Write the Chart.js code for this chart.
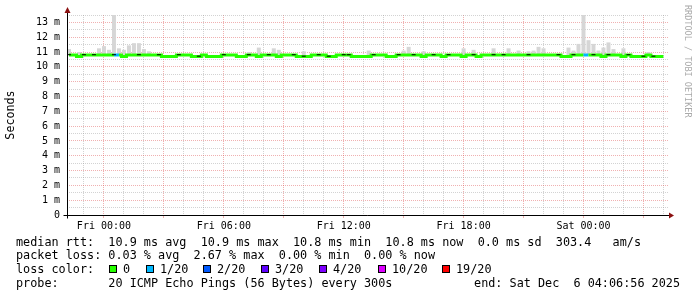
<!DOCTYPE html>
<html>
<head>
<meta charset="utf-8">
<script src="https://cdn.jsdelivr.net/npm/chart.js@4.4.1/dist/chart.umd.min.js"></script>
<style>
  body { margin: 0; background: #fff; }
  #wrap { position: relative; width: 697px; height: 297px; overflow: hidden; font-family: "DejaVu Sans Mono", monospace; }
  #c { position: absolute; left: 0; top: 0; }
  .row { position: absolute; font-size: 11.8px; line-height: 14px; white-space: pre; color: #000; }
  .box { position: absolute; width: 8px; height: 8px; border: 1px solid #000; box-sizing: border-box; }
</style>
</head>
<body>
<div id="wrap">
  <canvas id="c" width="697" height="297"></canvas>
  <div id="legend"></div>
</div>
<script>
// sampling grid: hours relative to Fri 00:00, one sample per 15 min
const startHour = -1.75;
const stepHours = 0.25;

// median rtt (ms)
const median = [
  10.80, 10.80, 10.70, 10.80, 10.80, 10.80, 10.80, 10.80, 10.80, 10.80,
  10.80, 10.70, 10.80, 10.80, 10.80, 10.80, 10.80, 10.80, 10.80, 10.70,
  10.70, 10.70, 10.80, 10.80, 10.80, 10.70, 10.70, 10.80, 10.70, 10.70,
  10.70, 10.80, 10.80, 10.80, 10.70, 10.70, 10.80, 10.80, 10.70, 10.80,
  10.80, 10.80, 10.70, 10.80, 10.80, 10.80, 10.70, 10.70, 10.70, 10.80,
  10.80, 10.80, 10.70, 10.70, 10.80, 10.80, 10.80, 10.70, 10.70, 10.70,
  10.70, 10.80, 10.80, 10.80, 10.70, 10.70, 10.80, 10.80, 10.80, 10.80,
  10.80, 10.70, 10.80, 10.80, 10.80, 10.70, 10.80, 10.80, 10.80, 10.70,
  10.80, 10.80, 10.70, 10.80, 10.80, 10.80, 10.80, 10.80, 10.80, 10.80,
  10.80, 10.80, 10.80, 10.80, 10.80, 10.80, 10.80, 10.80, 10.80, 10.70,
  10.70, 10.80, 10.80, 10.80, 10.80, 10.80, 10.80, 10.70, 10.80, 10.80,
  10.80, 10.70, 10.80, 10.70, 10.70, 10.70, 10.80, 10.70, 10.70, 10.70
];

// top of the ping smoke (ms), null = hidden behind the median line
const smokeTop = [
  11.20, null, 11.00, null, null, null, 11.25, 11.40, 11.15, 13.55,
  11.25, 11.15, 11.45, 11.60, 11.60, 11.20, 11.05, null, null, null,
  null, null, null, null, null, null, null, null, null, null,
  null, null, null, null, null, null, 11.00, null, 11.30, null,
  null, 11.25, 11.15, null, null, null, null, 11.05, null, null,
  null, null, null, null, null, null, null, null, null, null,
  11.10, null, null, null, null, null, null, 11.10, 11.35, null,
  null, 11.05, null, null, null, null, null, null, null, 11.25,
  null, 11.15, null, null, null, 11.25, null, null, 11.25, null,
  11.10, null, 11.05, 11.10, 11.35, 11.25, null, null, null, null,
  11.30, 11.10, 11.55, 13.60, 11.80, 11.55, 11.10, 11.30, 11.65, 11.20,
  null, 11.25, null, null, null, null, 11.00, null, null, null
];

// loss level index per sample (0 = no loss, 1 = 1/20)
const loss = [
  0, 0, 0, 0, 0, 0, 0, 0, 0, 1,  0, 0, 0, 0, 0, 0, 0, 0, 0, 0,
  0, 0, 0, 0, 0, 0, 0, 0, 0, 0,  0, 0, 0, 0, 0, 0, 0, 0, 0, 0,
  0, 0, 0, 0, 0, 0, 0, 0, 0, 0,  0, 0, 0, 0, 0, 0, 0, 0, 0, 0,
  0, 0, 0, 0, 0, 0, 0, 0, 0, 0,  0, 0, 0, 0, 0, 0, 0, 0, 0, 0,
  0, 0, 0, 0, 0, 0, 0, 0, 0, 0,  0, 0, 0, 0, 0, 0, 0, 0, 0, 0,
  0, 0, 0, 1, 0, 0, 0, 0, 0, 0,  0, 0, 0, 0, 0, 0, 0, 0, 0, 0
];

// samples where dense pings darken the median band
const darkIdx = [0, 3, 5, 9, 14, 18, 22, 26, 31, 36, 40, 45, 47, 50, 52, 55, 56,
  61, 66, 69, 73, 76, 81, 85, 87, 92, 98, 101, 105, 108, 112, 115, 117];

const lossLabels = ['0', '1/20', '2/20', '3/20', '4/20', '10/20', '19/20'];
const lossColors = ['#26ff00', '#00b8ff', '#0059ff', '#5e00ff', '#7e00ff', '#dd00ff', '#ff0000'];

const xTickHours = [0, 6, 12, 18, 24];
const xTickLabels = ['Fri 00:00', 'Fri 06:00', 'Fri 12:00', 'Fri 18:00', 'Sat 00:00'];

const legendRows = [
  'median rtt:  10.9 ms avg  10.9 ms max  10.8 ms min  10.8 ms now  0.0 ms sd  303.4   am/s',
  'packet loss: 0.03 % avg  2.67 % max  0.00 % min  0.00 % now',
  'loss color:',
  'probe:       20 ICMP Echo Pings (56 Bytes) every 300s'
];
const endText = 'end: Sat Dec  6 04:06:56 2025';

const hourOf = i => startHour + i * stepHours;
const redGrid = 'rgba(220,70,70,0.42)';
const grayGrid = 'rgba(150,150,150,0.42)';
const monoFont = 'DejaVu Sans Mono';

const rrdAxes = {
  id: 'rrdAxes',
  afterDraw(chart) {
    const { ctx, chartArea: a } = chart;
    const x0 = Math.round(a.left) + 0.5, y0 = Math.round(a.bottom) + 0.5;
    ctx.save();
    ctx.strokeStyle = '#000';
    ctx.lineWidth = 1;
    ctx.beginPath();
    ctx.moveTo(x0, a.top - 4);
    ctx.lineTo(x0, y0 + 3);
    ctx.moveTo(x0 - 4, y0);
    ctx.lineTo(a.right + 3, y0);
    ctx.stroke();
    ctx.fillStyle = '#8b1010';
    ctx.beginPath();
    ctx.moveTo(x0, a.top - 8);
    ctx.lineTo(x0 - 3, a.top - 2);
    ctx.lineTo(x0 + 3, a.top - 2);
    ctx.closePath();
    ctx.fill();
    ctx.beginPath();
    ctx.moveTo(a.right + 6, y0);
    ctx.lineTo(a.right + 1, y0 - 3);
    ctx.lineTo(a.right + 1, y0 + 3);
    ctx.closePath();
    ctx.fill();
    ctx.translate(683, 5);
    ctx.rotate(Math.PI / 2);
    ctx.fillStyle = '#aaaaaa';
    ctx.font = '8.5px "DejaVu Sans Mono"';
    ctx.textBaseline = 'middle';
    ctx.fillText('RRDTOOL / TOBI OETIKER', 0, -4);
    ctx.restore();
  }
};

new Chart(document.getElementById('c'), {
  type: 'line',
  data: {
    datasets: [
      {
        label: 'dark',
        data: darkIdx.map(i => ({ x: hourOf(i), y: median[i] + 0.02 })),
        showLine: false,
        pointStyle: 'line',
        pointRadius: 2,
        pointBorderWidth: 1,
        pointBorderColor: '#000',
        order: 0
      },
      {
        label: 'median',
        data: median.map((v, i) => ({ x: hourOf(i), y: v })),
        borderColor: lossColors[0],
        borderWidth: 3,
        pointRadius: 0,
        stepped: 'middle',
        segment: { borderColor: c => lossColors[loss[c.p0DataIndex]] },
        order: 1
      },
      {
        type: 'bar',
        label: 'smoke',
        data: smokeTop.map((v, i) => v === null ? null : { x: hourOf(i), y: [median[i], v] }).filter(d => d),
        backgroundColor: '#d6d6d6',
        barPercentage: 0.8,
        categoryPercentage: 1,
        order: 2
      }
    ]
  },
  options: {
    responsive: false,
    animation: false,
    devicePixelRatio: 1,
    layout: { padding: { left: 0, top: 15, right: 29, bottom: 62 } },
    plugins: { legend: { display: false }, tooltip: { enabled: false } },
    scales: {
      x: {
        type: 'linear',
        min: -1.85,
        max: 28.23,
        offset: false,
        afterFit(s) { s.height = 20; },
        ticks: {
          stepSize: 1,
          includeBounds: false,
          autoSkip: false,
          maxRotation: 0,
          padding: 2,
          color: '#000',
          font: { family: monoFont, size: 10 },
          callback: v => { const k = xTickHours.indexOf(v); return k < 0 ? '' : xTickLabels[k]; }
        },
        grid: {
          offset: false,
          color: c => (c.tick && c.tick.value % 3 === 0) ? redGrid : grayGrid,
          tickColor: c => (c.tick && c.tick.value % 3 === 0) ? redGrid : 'rgba(0,0,0,0)',
          tickLength: 3
        },
        border: { display: false, dash: [1, 1] }
      },
      y: {
        min: 0,
        max: 13.5,
        afterFit(s) { s.width = 67; },
        ticks: {
          stepSize: 0.5,
          autoSkip: false,
          padding: 7,
          color: '#000',
          font: { family: monoFont, size: 10 },
          callback: v => Number.isInteger(v) ? (v === 0 ? '0' : v + ' m') : ''
        },
        grid: {
          color: c => (c.tick && Number.isInteger(c.tick.value)) ? redGrid : grayGrid,
          drawTicks: false
        },
        border: { display: false, dash: [1, 1] },
        title: {
          display: true,
          text: 'Seconds',
          color: '#000',
          font: { family: monoFont, size: 11.7 },
          padding: { top: 4, bottom: 0 }
        }
      }
    }
  },
  plugins: [rrdAxes]
});

// text legend under the graph
const legend = document.getElementById('legend');
const rowTops = [235, 248, 262, 276];
legendRows.forEach((t, r) => {
  const d = document.createElement('div');
  d.className = 'row';
  d.style.left = '16px';
  d.style.top = rowTops[r] + 'px';
  d.textContent = t;
  legend.appendChild(d);
});
const boxX = [109, 146, 203, 261, 319, 378, 442];
lossLabels.forEach((lab, k) => {
  const b = document.createElement('div');
  b.className = 'box';
  b.style.left = boxX[k] + 'px';
  b.style.top = '265px';
  b.style.background = lossColors[k];
  legend.appendChild(b);
  const t = document.createElement('div');
  t.className = 'row';
  t.style.left = (boxX[k] + 14) + 'px';
  t.style.top = rowTops[2] + 'px';
  t.textContent = lab;
  legend.appendChild(t);
});
const e = document.createElement('div');
e.className = 'row';
e.style.right = '17px';
e.style.top = rowTops[3] + 'px';
e.textContent = endText;
legend.appendChild(e);
</script>
</body>
</html>
